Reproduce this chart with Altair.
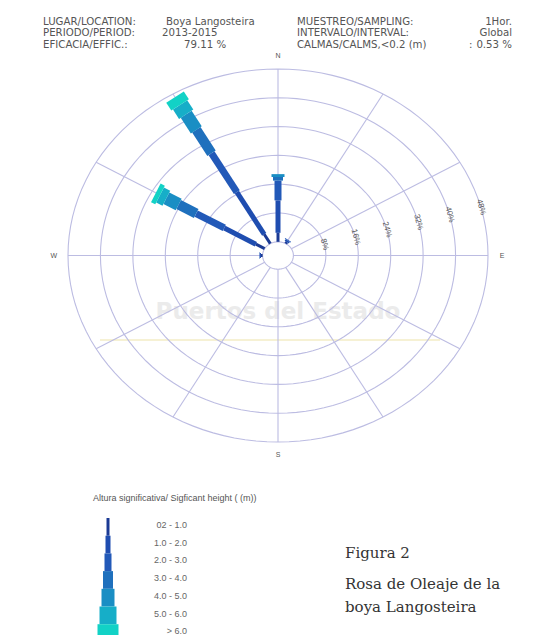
import altair as alt
import pandas as pd

# ---------------- data ----------------
HEIGHT_CLASSES = ["0.2 - 1.0", "1.0 - 2.0", "2.0 - 3.0", "3.0 - 4.0",
                  "4.0 - 5.0", "5.0 - 6.0", "> 6.0"]
LEGEND_LABELS = ["02 - 1.0", "1.0 - 2.0", "2.0 - 3.0", "3.0 - 4.0",
                 "4.0 - 5.0", "5.0 - 6.0", "> 6.0"]
CLASS_COLORS = ["#1b3a94", "#1f4db0", "#2259b8", "#1f70bd",
                "#1a8ec4", "#16aec8", "#12d2c6"]
CLASS_WIDTHS = [3, 5, 7, 10, 13, 17, 21]
CLASS_INDEX = list(range(len(HEIGHT_CLASSES)))

# frequency (%) by direction (deg from N) and height class
DIRECTIONS = [0, 30, 270, 300, 330]
FREQ_000 = [2.5, 9.0, 5.5, 1.0, 0.8, 0.0, 0.0]
FREQ_030 = [0.5, 0.5, 0.2, 0.0, 0.0, 0.0, 0.0]
FREQ_270 = [0.4, 0.3, 0.1, 0.0, 0.0, 0.0, 0.0]
FREQ_300 = [2.5, 9.0, 8.0, 5.0, 3.5, 1.8, 1.2]
FREQ_330 = [3.0, 13.5, 12.5, 7.5, 5.0, 3.0, 2.5]
FREQS = [FREQ_000, FREQ_030, FREQ_270, FREQ_300, FREQ_330]

RING_PCTS = [0, 8, 16, 24, 32, 40, 48]
RING_LABELS = ["8%", "16%", "24%", "32%", "40%", "48%"]
LABEL_DIR = 75
SPOKE_DIRS = list(range(0, 360, 30))
CARDINALS = ["N", "E", "S", "W"]
CARDINAL_DIRS = [0, 90, 180, 270]

HEADER_LEFT_KEYS = ["LUGAR/LOCATION:", "PERIODO/PERIOD:", "EFICACIA/EFFIC.:"]
HEADER_LEFT_VALS = ["Boya Langosteira", "2013-2015", "79.11 %"]
HEADER_RIGHT_KEYS = ["MUESTREO/SAMPLING:", "INTERVALO/INTERVAL:", "CALMAS/CALMS,<0.2 (m)"]
HEADER_RIGHT_VALS = ["1Hor.", "Global", "0.53 %"]

# ---------------- geometry / scales ----------------
R0 = 3.8            # inner hole, in % units
U = 48 + R0         # outer ring
xs = alt.Scale(domain=[-U, U], range=[60, 480], zero=False, nice=False)
ys = alt.Scale(domain=[-U, U], range=[434, 61], zero=False, nice=False)
cs = alt.Scale(domain=HEIGHT_CLASSES, range=CLASS_COLORS)
ws = alt.Scale(type="linear", domain=CLASS_INDEX, range=CLASS_WIDTHS, zero=False, nice=False)

def px(p, d):
    return f"({p} + {R0}) * sin(({d}) * PI / 180)"

def py(p, d):
    return f"({p} + {R0}) * cos(({d}) * PI / 180)"

# petals
rows = []
for d, fr in zip(DIRECTIONS, FREQS):
    for i, (c, f) in enumerate(zip(HEIGHT_CLASSES, fr)):
        if f > 0:
            rows.append({"dir": d, "cls": c, "order": i, "freq": f})
petal_df = pd.DataFrame(rows)

petals = alt.Chart(petal_df).transform_window(
    cum="sum(freq)", groupby=["dir"], sort=[alt.SortField("order")], frame=[None, 0]
).transform_calculate(
    start="datum.cum - datum.freq"
).transform_calculate(
    x0=px("datum.start", "datum.dir"), y0=py("datum.start", "datum.dir"),
    x1=px("datum.cum", "datum.dir"), y1=py("datum.cum", "datum.dir"),
).mark_rule(strokeCap="butt").encode(
    x=alt.X("x0:Q", scale=xs, axis=None),
    y=alt.Y("y0:Q", scale=ys, axis=None),
    x2="x1:Q", y2="y1:Q",
    color=alt.Color("cls:N", scale=cs, legend=None),
    strokeWidth=alt.StrokeWidth("order:Q", scale=ws, legend=None),
    order=alt.Order("order:Q"),
)

# rings (grid)
ring_rows = [{"ring": r, "ang": a} for r in RING_PCTS for a in range(0, 361, 3)]
rings = alt.Chart(pd.DataFrame(ring_rows)).transform_calculate(
    gx=px("datum.ring", "datum.ang"), gy=py("datum.ring", "datum.ang")
).mark_line(color="#bcbce2", strokeWidth=1.1).encode(
    x=alt.X("gx:Q", scale=xs, axis=None),
    y=alt.Y("gy:Q", scale=ys, axis=None),
    detail="ring:N", order="ang:Q",
)

spokes = alt.Chart(pd.DataFrame({"dir": SPOKE_DIRS})).transform_calculate(
    sx0=px(0, "datum.dir"), sy0=py(0, "datum.dir"),
    sx1=px(48, "datum.dir"), sy1=py(48, "datum.dir"),
).mark_rule(color="#bcbce2", strokeWidth=1.1).encode(
    x=alt.X("sx0:Q", scale=xs, axis=None), y=alt.Y("sy0:Q", scale=ys, axis=None),
    x2="sx1:Q", y2="sy1:Q",
)

ring_lab = alt.Chart(pd.DataFrame({"p": RING_PCTS[1:], "t": RING_LABELS})).transform_calculate(
    lx=px("datum.p", LABEL_DIR), ly=py("datum.p", LABEL_DIR)
).mark_text(angle=75, fontSize=8, font="Liberation Sans", color="#555555",
            baseline="middle", align="center").encode(
    x=alt.X("lx:Q", scale=xs, axis=None), y=alt.Y("ly:Q", scale=ys, axis=None), text="t:N"
)

card = alt.Chart(pd.DataFrame({"dir": CARDINAL_DIRS, "t": CARDINALS})).transform_calculate(
    cx=px(51.5, "datum.dir"), cy=py(51.5, "datum.dir")
).mark_text(fontSize=7, font="Liberation Sans", color="#555555",
            baseline="middle", align="center").encode(
    x=alt.X("cx:Q", scale=xs, axis=None), y=alt.Y("cy:Q", scale=ys, axis=None), text="t:N"
)

def label(txt, x, y, size, color="#555555", align="left",
          font="Liberation Sans", weight="normal"):
    return alt.Chart(pd.DataFrame({"t": [txt]})).mark_text(
        align=align, baseline="middle", fontSize=size, font=font,
        color=color, fontWeight=weight
    ).encode(x=alt.value(x), y=alt.value(y), text="t:N")

layers = []
# watermark
layers.append(label("Puertos del Estado", 270, 304, 23, color="#ebebeb",
                    align="center", font="DejaVu Sans", weight="bold"))
layers.append(alt.Chart(pd.DataFrame({"a": [0]})).mark_rule(
    color="#f3edc6", strokeWidth=1.5).encode(
    x=alt.value(92), x2=alt.value(432), y=alt.value(332)))
layers += [rings, spokes, petals, ring_lab, card]

# header
HF = 10.2
HY = [13.5, 25.3, 37.0]
LV_X = [158, 154, 176]
for k, v, y, vx in zip(HEADER_LEFT_KEYS, HEADER_LEFT_VALS, HY, LV_X):
    layers.append(label(k, 35, y, HF, font="DejaVu Sans"))
    layers.append(label(v, vx, y, HF, font="DejaVu Sans"))
for k, v, y in zip(HEADER_RIGHT_KEYS, HEADER_RIGHT_VALS, HY):
    layers.append(label(k, 289, y, HF, font="DejaVu Sans"))
    layers.append(label(v, 504, y, HF, align="right", font="DejaVu Sans"))
layers.append(label(":", 461, HY[2], HF, font="DejaVu Sans"))

# legend
layers.append(label("Altura significativa/ Sigficant height   ( (m))", 85, 490, 9))
LEG_TOP = 510
LEG_STEP = 17.7
for i, (c, t) in enumerate(zip(HEIGHT_CLASSES, LEGEND_LABELS)):
    seg = alt.Chart(pd.DataFrame({"cls": [c], "order": [i]})).mark_rule(strokeCap="butt").encode(
        x=alt.value(100),
        y=alt.value(LEG_TOP + i * LEG_STEP),
        y2=alt.value(LEG_TOP + (i + 1) * LEG_STEP),
        color=alt.Color("cls:N", scale=cs, legend=None),
        strokeWidth=alt.StrokeWidth("order:Q", scale=ws, legend=None),
    )
    layers.append(seg)
    layers.append(label(t, 179, 517 + i * LEG_STEP, 9, color="#666666", align="right"))

# caption
layers.append(label("Figura 2", 337, 545, 15, color="#333333", font="DejaVu Serif"))
layers.append(label("Rosa de Oleaje de la", 337, 576, 15, color="#333333", font="DejaVu Serif"))
layers.append(label("boya Langosteira", 337, 599, 15, color="#333333", font="DejaVu Serif"))

chart = alt.layer(*layers).properties(
    width=521, height=627, autosize="none", padding=0, background="white"
).configure_view(stroke=None)

chart.save("out.html", embed_options={"renderer": "svg", "actions": False})
